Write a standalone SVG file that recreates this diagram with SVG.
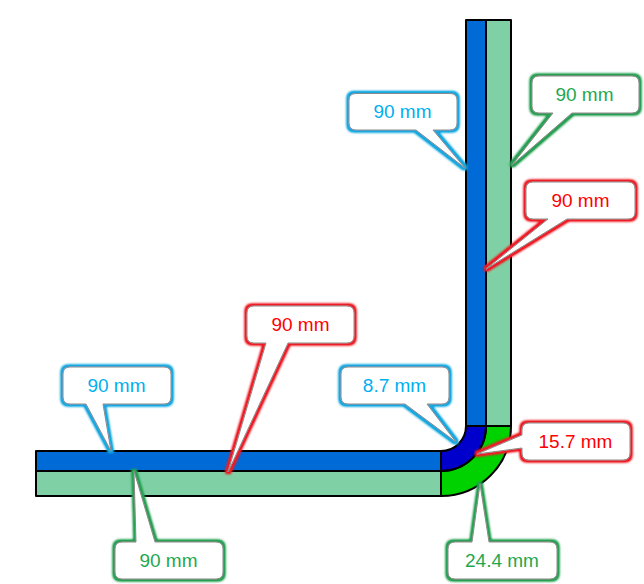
<svg xmlns="http://www.w3.org/2000/svg" width="644" height="584" viewBox="0 0 644 584">
<style>
.s{stroke:#000;stroke-width:2;stroke-linejoin:round}
.bl{fill:#006ad6}.gn{fill:#7fd1a5}.db{fill:#0000cc}.lg{fill:#00d200}
.c{fill:#fff;stroke:#8a8a8a;stroke-width:1}
text{font-family:"Liberation Sans",Arial,sans-serif;font-size:19px;text-anchor:middle}
.tb{fill:#00b0f0}.tg{fill:#1fa84f}.tr{fill:#ff0000}
</style>
<defs>
<filter id="gb" x="-20%" y="-20%" width="140%" height="140%"><feMorphology in="SourceAlpha" operator="dilate" radius="1.500"/><feGaussianBlur stdDeviation="1.300"/><feComposite in2="SourceAlpha" operator="arithmetic" k1="0" k2="1.300" k3="0" k4="0" result="a"/><feFlood flood-color="#12a8e0"/><feComposite in2="a" operator="in"/><feMerge><feMergeNode/><feMergeNode in="SourceGraphic"/></feMerge></filter>
<filter id="gg" x="-20%" y="-20%" width="140%" height="140%"><feMorphology in="SourceAlpha" operator="dilate" radius="1.500"/><feGaussianBlur stdDeviation="1.300"/><feComposite in2="SourceAlpha" operator="arithmetic" k1="0" k2="1.300" k3="0" k4="0" result="a"/><feFlood flood-color="#25a052"/><feComposite in2="a" operator="in"/><feMerge><feMergeNode/><feMergeNode in="SourceGraphic"/></feMerge></filter>
<filter id="gr" x="-20%" y="-20%" width="140%" height="140%"><feMorphology in="SourceAlpha" operator="dilate" radius="1.500"/><feGaussianBlur stdDeviation="1.300"/><feComposite in2="SourceAlpha" operator="arithmetic" k1="0" k2="1.300" k3="0" k4="0" result="a"/><feFlood flood-color="#ee1c25"/><feComposite in2="a" operator="in"/><feMerge><feMergeNode/><feMergeNode in="SourceGraphic"/></feMerge></filter>
</defs>
<rect width="644" height="584" fill="#fff"/>
<g id="strips">
<rect class="s bl" x="36" y="451" width="405" height="20"/>
<rect class="s gn" x="36" y="471" width="405" height="25"/>
<rect class="s bl" x="466" y="20" width="20" height="406"/>
<rect class="s gn" x="486" y="20" width="25" height="406"/>
<path class="s lg" d="M441 471A45 45 0 0 0 486 426H511A70 70 0 0 1 441 496Z"/>
<path class="s db" d="M441 451A25 25 0 0 0 466 426H486A45 45 0 0 1 441 471Z"/>
</g>
<g id="c-top-blue"><path class="c" filter="url(#gb)" d="M356 93.500H450Q457 93.500 457 100V123Q457 130 450 130H433L465 168L416 130H356Q349 130 349 123V100Q349 93.500 356 93.500Z"/><text class="tb" x="402.500" y="118">90 mm</text></g>
<g id="c-top-green"><path class="c" filter="url(#gg)" d="M539 76H632Q639 76 639 83V106Q639 113 632 113H572L512 165L553 113H539Q532 113 532 106V83Q532 76 539 76Z"/><text class="tg" x="584.500" y="101">90 mm</text></g>
<g id="c-top-red"><path class="c" filter="url(#gr)" d="M533 182H628Q635 182 635 189V212Q635 219 628 219H567L486 269L548 219H533Q526 219 526 212V189Q526 182 533 182Z"/><text class="tr" x="580.500" y="207">90 mm</text></g>
<g id="c-left-blue"><path class="c" filter="url(#gb)" d="M70 367H164Q171 367 171 374V397Q171 404 164 404H103L111 451L86 404H70Q63 404 63 397V374Q63 367 70 367Z"/><text class="tb" x="116.500" y="392">90 mm</text></g>
<g id="c-mid-red"><path class="c" filter="url(#gr)" d="M254 306H347Q354 306 354 313V336Q354 343 347 343H288L228 472L266 343H254Q247 343 247 336V313Q247 306 254 306Z"/><text class="tr" x="300.500" y="331">90 mm</text></g>
<g id="c-bottom-green"><path class="c" filter="url(#gg)" d="M122 542H136L134 471L155 542H216Q223 542 223 549V572Q223 579 216 579H122Q115 579 115 572V549Q115 542 122 542Z"/><text class="tg" x="168.500" y="567">90 mm</text></g>
<g id="c-corner-blue"><path class="c" filter="url(#gb)" d="M348 367H442Q449 367 449 374V397Q449 404 442 404H427L456 442L405 404H348Q341 404 341 397V374Q341 367 348 367Z"/><text class="tb" x="394.500" y="392">8.7 mm</text></g>
<g id="c-corner-red"><path class="c" filter="url(#gr)" d="M529 423H623Q630 423 630 430V453Q630 460 623 460H529Q522 460 522 453V448L477 454L522 435V430Q522 423 529 423Z"/><text class="tr" x="575.500" y="448">15.7 mm</text></g>
<g id="c-corner-green"><path class="c" filter="url(#gg)" d="M455 542H472L480 484L489 542H550Q557 542 557 549V572Q557 579 550 579H455Q448 579 448 572V549Q448 542 455 542Z"/><text class="tg" x="502" y="567">24.4 mm</text></g>
</svg>
